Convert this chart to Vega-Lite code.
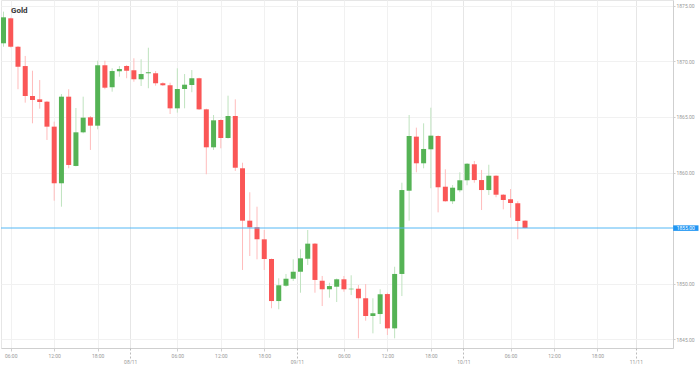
{
  "$schema": "https://vega.github.io/schema/vega-lite/v6.json",
  "width": 672,
  "height": 348,
  "padding": 0,
  "autosize": {"type": "pad"},
  "background": "white",
  "config": {"font": "Roboto", "view": {"stroke": "#e6e6e6"}},
  "title": {"text": "Gold", "anchor": "start", "frame": "group", "dx": 10, "offset": -15, "fontSize": 8, "fontWeight": "bold", "color": "#333333"},
  "data": {"values": [
    {"i":0,"o":1871.64,"h":1874.49,"l":1871.33,"c":1873.98},
    {"i":1,"o":1873.89,"h":1873.95,"l":1871.26,"c":1871.33},
    {"i":2,"o":1871.33,"h":1871.40,"l":1867.50,"c":1869.53},
    {"i":3,"o":1869.59,"h":1870.50,"l":1866.29,"c":1866.89},
    {"i":4,"o":1866.89,"h":1869.17,"l":1864.43,"c":1866.53},
    {"i":5,"o":1866.59,"h":1868.33,"l":1865.75,"c":1866.35},
    {"i":6,"o":1866.38,"h":1866.45,"l":1862.93,"c":1864.13},
    {"i":7,"o":1864.13,"h":1864.58,"l":1857.46,"c":1859.03},
    {"i":8,"o":1859.03,"h":1867.07,"l":1856.92,"c":1866.83},
    {"i":9,"o":1866.83,"h":1867.50,"l":1860.38,"c":1860.68},
    {"i":10,"o":1860.59,"h":1865.81,"l":1860.55,"c":1863.62},
    {"i":11,"o":1863.62,"h":1866.83,"l":1863.53,"c":1864.94},
    {"i":12,"o":1864.97,"h":1865.09,"l":1862.03,"c":1864.22},
    {"i":13,"o":1864.22,"h":1870.07,"l":1863.89,"c":1869.66},
    {"i":14,"o":1869.66,"h":1870.07,"l":1867.50,"c":1867.64},
    {"i":15,"o":1867.68,"h":1869.39,"l":1867.28,"c":1869.14},
    {"i":16,"o":1869.12,"h":1869.59,"l":1868.63,"c":1869.32},
    {"i":17,"o":1869.59,"h":1869.68,"l":1868.49,"c":1869.17},
    {"i":18,"o":1869.21,"h":1870.29,"l":1868.18,"c":1868.40},
    {"i":19,"o":1868.40,"h":1870.20,"l":1867.79,"c":1868.87},
    {"i":20,"o":1868.94,"h":1871.24,"l":1867.59,"c":1869.03},
    {"i":21,"o":1868.94,"h":1869.14,"l":1867.82,"c":1868.04},
    {"i":22,"o":1868.04,"h":1868.13,"l":1867.79,"c":1867.86},
    {"i":23,"o":1867.86,"h":1868.09,"l":1865.27,"c":1865.78},
    {"i":24,"o":1865.78,"h":1869.39,"l":1865.39,"c":1867.52},
    {"i":25,"o":1867.52,"h":1868.87,"l":1865.78,"c":1867.91},
    {"i":26,"o":1867.88,"h":1869.23,"l":1867.23,"c":1868.49},
    {"i":27,"o":1868.49,"h":1868.54,"l":1865.63,"c":1865.69},
    {"i":28,"o":1865.69,"h":1865.75,"l":1859.84,"c":1862.27},
    {"i":29,"o":1862.27,"h":1865.18,"l":1862.03,"c":1864.70},
    {"i":30,"o":1864.73,"h":1864.79,"l":1862.18,"c":1863.11},
    {"i":31,"o":1863.11,"h":1866.92,"l":1863.05,"c":1865.09},
    {"i":32,"o":1865.09,"h":1866.59,"l":1860.14,"c":1860.43},
    {"i":33,"o":1860.38,"h":1860.88,"l":1851.22,"c":1855.66},
    {"i":34,"o":1855.66,"h":1858.22,"l":1852.48,"c":1855.06},
    {"i":35,"o":1855.06,"h":1856.92,"l":1852.18,"c":1853.98},
    {"i":36,"o":1853.98,"h":1854.82,"l":1851.22,"c":1852.21},
    {"i":37,"o":1852.21,"h":1852.25,"l":1847.77,"c":1848.42},
    {"i":38,"o":1848.42,"h":1850.47,"l":1847.68,"c":1849.84},
    {"i":39,"o":1849.80,"h":1850.86,"l":1849.71,"c":1850.43},
    {"i":40,"o":1850.43,"h":1852.18,"l":1850.23,"c":1851.06},
    {"i":41,"o":1851.06,"h":1853.08,"l":1849.17,"c":1852.27},
    {"i":42,"o":1852.23,"h":1854.82,"l":1851.67,"c":1853.59},
    {"i":43,"o":1853.59,"h":1853.65,"l":1849.17,"c":1850.32},
    {"i":44,"o":1850.25,"h":1850.68,"l":1847.97,"c":1849.48},
    {"i":45,"o":1849.48,"h":1850.07,"l":1848.72,"c":1849.77},
    {"i":46,"o":1849.71,"h":1850.45,"l":1848.33,"c":1850.38},
    {"i":47,"o":1850.38,"h":1850.68,"l":1849.26,"c":1849.48},
    {"i":48,"o":1849.48,"h":1850.74,"l":1848.96,"c":1849.53},
    {"i":49,"o":1849.53,"h":1849.86,"l":1845.06,"c":1848.67},
    {"i":50,"o":1848.67,"h":1849.95,"l":1846.65,"c":1847.07},
    {"i":51,"o":1847.07,"h":1848.67,"l":1845.51,"c":1847.32},
    {"i":52,"o":1847.25,"h":1849.48,"l":1846.35,"c":1849.03},
    {"i":53,"o":1849.05,"h":1849.17,"l":1845.36,"c":1845.96},
    {"i":54,"o":1845.96,"h":1851.51,"l":1845.06,"c":1850.86},
    {"i":55,"o":1850.86,"h":1859.08,"l":1848.87,"c":1858.42},
    {"i":56,"o":1858.36,"h":1865.18,"l":1855.66,"c":1863.29},
    {"i":57,"o":1863.23,"h":1864.04,"l":1860.02,"c":1860.83},
    {"i":58,"o":1860.83,"h":1864.43,"l":1860.38,"c":1862.12},
    {"i":59,"o":1862.09,"h":1865.84,"l":1858.58,"c":1863.32},
    {"i":60,"o":1863.29,"h":1863.35,"l":1856.41,"c":1858.67},
    {"i":61,"o":1858.72,"h":1860.29,"l":1857.37,"c":1857.41},
    {"i":62,"o":1857.41,"h":1858.87,"l":1857.16,"c":1858.63},
    {"i":63,"o":1858.40,"h":1860.02,"l":1858.22,"c":1859.30},
    {"i":64,"o":1859.30,"h":1860.85,"l":1858.85,"c":1860.79},
    {"i":65,"o":1860.74,"h":1861.04,"l":1859.08,"c":1859.32},
    {"i":66,"o":1859.32,"h":1860.23,"l":1856.62,"c":1858.42},
    {"i":67,"o":1858.42,"h":1860.70,"l":1857.97,"c":1859.71},
    {"i":68,"o":1859.71,"h":1859.75,"l":1857.77,"c":1858.00},
    {"i":69,"o":1858.00,"h":1858.05,"l":1856.68,"c":1857.52},
    {"i":70,"o":1857.59,"h":1858.51,"l":1855.93,"c":1857.25},
    {"i":71,"o":1857.23,"h":1857.41,"l":1853.98,"c":1855.63},
    {"i":72,"o":1855.66,"h":1855.70,"l":1854.97,"c":1855.00}
  ]},
  "resolve": {"axis": {"x": "independent"}},
  "layer": [
    {
      "mark": {"type": "rule", "strokeWidth": 1},
      "encoding": {
        "x": {"field": "i", "type": "quantitative", "scale": {"domain": [-0.345, 92.43], "nice": false, "zero": false, "padding": 0},
          "axis": {"orient": "bottom", "values": [1,7,13,24,30,36,47,53,59,70,76,82],
            "labelExpr": "['06:00','12:00','18:00'][indexof([1,7,13,24,30,36,47,53,59,70,76,82], datum.value) % 3]",
            "title": null, "grid": true, "gridColor": "#f1f1f1", "domain": true, "domainColor": "#cfcfcf",
            "tickSize": 3, "tickColor": "#cfcfcf", "labelPadding": 2, "labelFontSize": 5, "labelColor": "#999999", "labelFlush": false, "labelOverlap": false}},
        "y": {"field": "l", "type": "quantitative", "scale": {"domain": [1844.19, 1875.54], "nice": false, "zero": false},
          "axis": {"orient": "right", "values": [1845,1850,1860,1865,1870,1875], "format": ".2f", "title": null,
            "grid": true, "gridColor": "#f1f1f1", "domainColor": "#cfcfcf", "tickSize": 2, "tickColor": "#cfcfcf",
            "labelPadding": 1, "labelFontSize": 5, "labelColor": "#999999", "labelFlush": false}},
        "y2": {"field": "h"},
        "color": {"condition": {"test": "datum.c >= datum.o", "value": "#bfe3bf"}, "value": "#ffbcbc"}
      }
    },
    {
      "mark": {"type": "bar", "size": 5},
      "encoding": {
        "x": {"field": "i", "type": "quantitative", "scale": {"domain": [-0.345, 92.43], "nice": false, "zero": false, "padding": 0},
          "axis": {"orient": "bottom", "values": [17.5, 40.5, 63.5, 87.3],
            "labelExpr": "['08/11','09/11','10/11','11/11'][indexof([17.5,40.5,63.5,87.3], datum.value)]",
            "title": null, "grid": true, "gridColor": "#e6e6e6", "domain": false,
            "tickSize": 10, "tickDash": [2, 2], "tickColor": "#bbbbbb", "labelPadding": 1, "labelFontSize": 5, "labelColor": "#999999", "labelFlush": false, "labelOverlap": false}},
        "y": {"field": "o", "type": "quantitative", "scale": {"domain": [1844.19, 1875.54], "nice": false, "zero": false}},
        "y2": {"field": "c"},
        "color": {"condition": {"test": "datum.c >= datum.o", "value": "#55b355"}, "value": "#fa5656"}
      }
    },
    {
      "transform": [{"filter": "datum.i == 72"}],
      "mark": {"type": "rule", "color": "#55b8f5", "strokeWidth": 1},
      "encoding": {
        "y": {"field": "c", "type": "quantitative", "scale": {"domain": [1844.19, 1875.54], "nice": false, "zero": false}}
      }
    },
    {
      "transform": [{"filter": "datum.i == 72"}],
      "mark": {"type": "rect", "color": "#2196f3"},
      "encoding": {
        "x": {"datum": 92.45, "type": "quantitative", "scale": {"domain": [-0.345, 92.43], "nice": false, "zero": false, "padding": 0}, "axis": null},
        "x2": {"datum": 95.95},
        "y": {"datum": 1854.74, "type": "quantitative", "scale": {"domain": [1844.19, 1875.54], "nice": false, "zero": false}},
        "y2": {"datum": 1855.24}
      }
    },
    {
      "transform": [{"filter": "datum.i == 72"}],
      "mark": {"type": "text", "color": "white", "fontSize": 5, "align": "center", "baseline": "middle"},
      "encoding": {
        "x": {"datum": 94.2, "type": "quantitative", "scale": {"domain": [-0.345, 92.43], "nice": false, "zero": false, "padding": 0}, "axis": null},
        "y": {"field": "c", "type": "quantitative", "scale": {"domain": [1844.19, 1875.54], "nice": false, "zero": false}},
        "text": {"field": "c", "type": "quantitative", "format": ".2f"}
      }
    }
  ]
}
